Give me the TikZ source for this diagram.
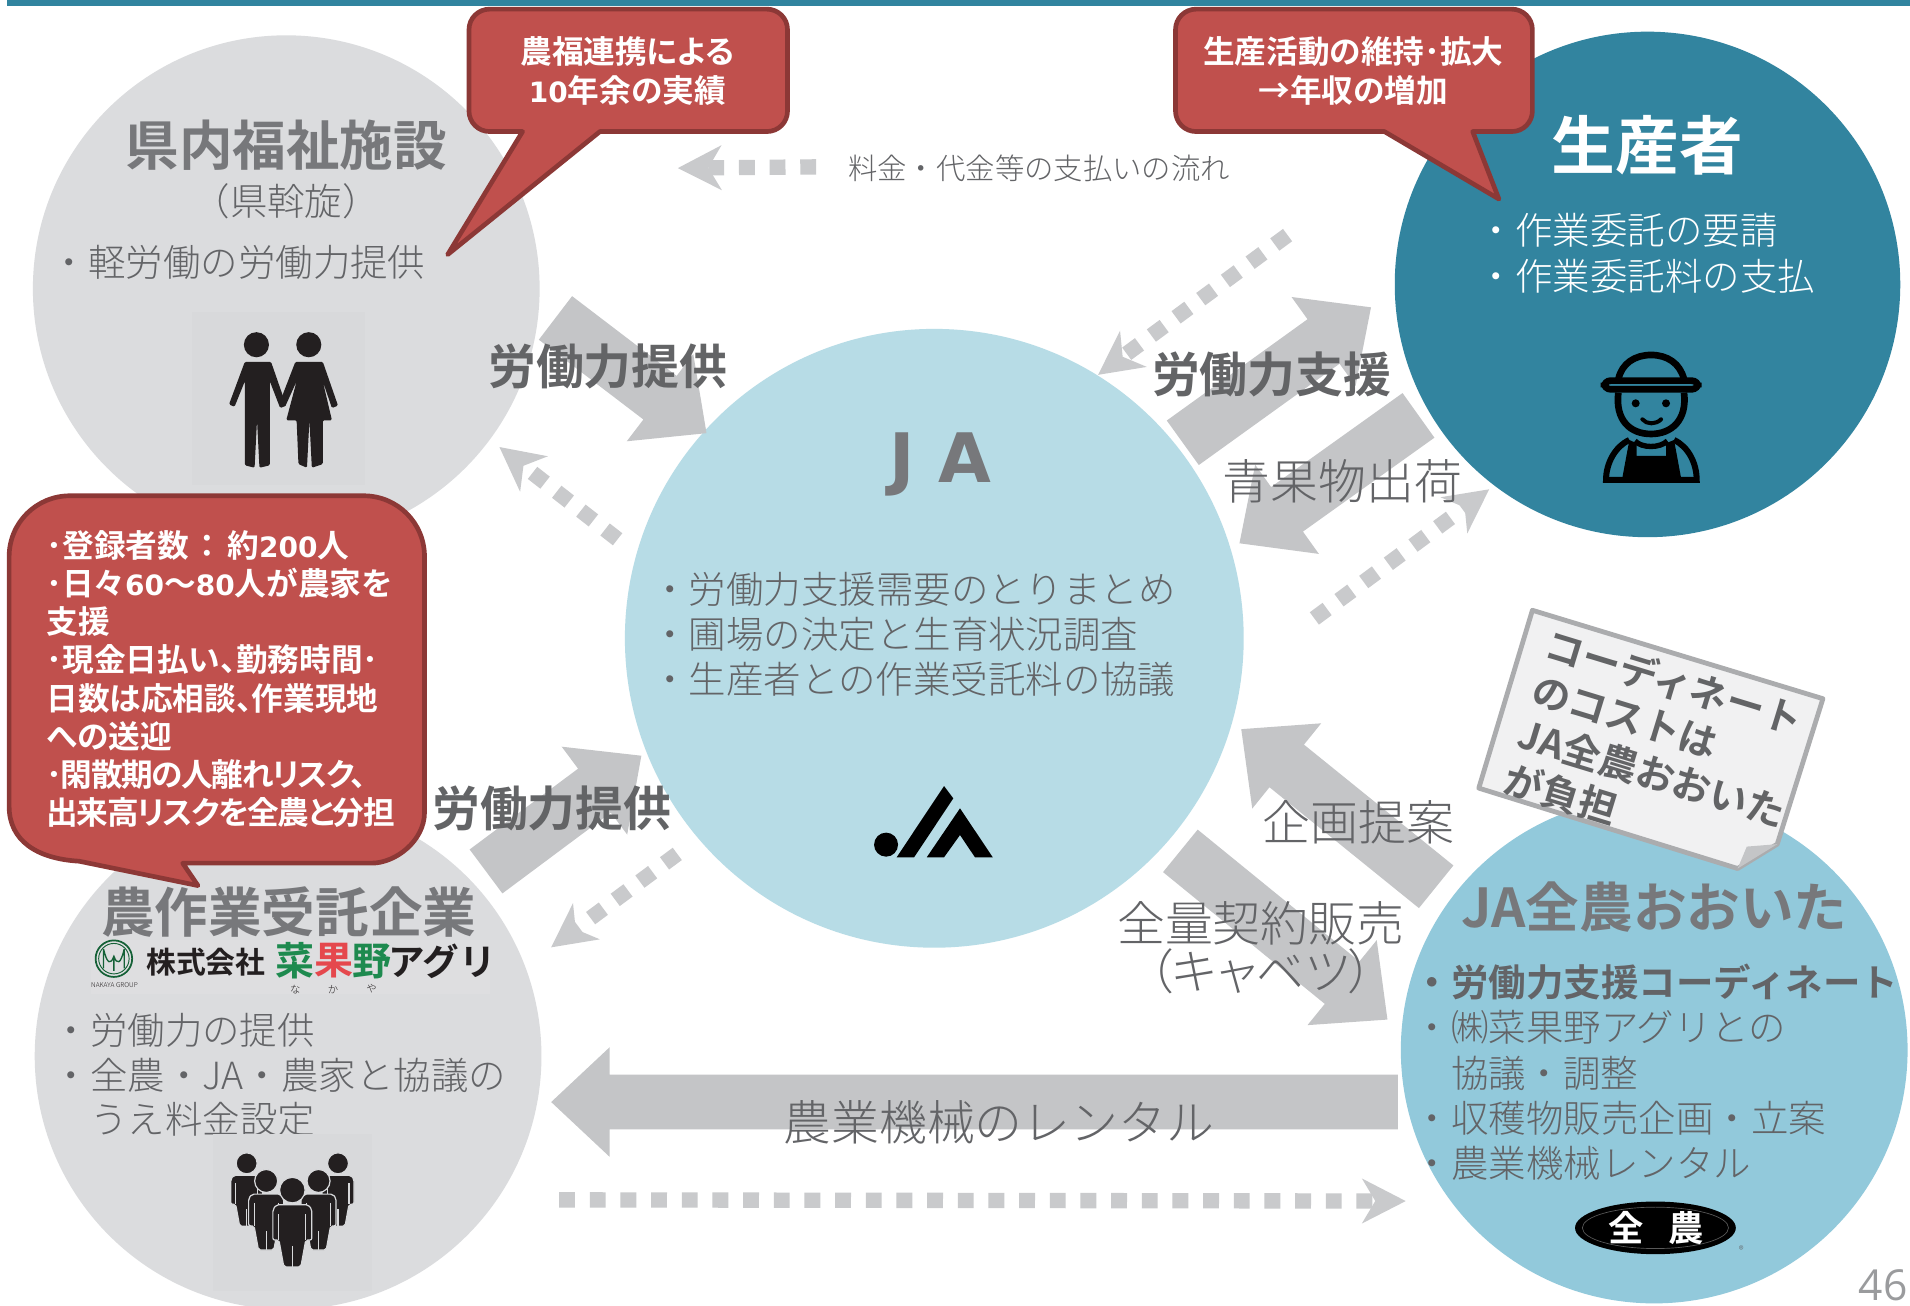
\documentclass[tikz,border=0pt]{standalone}
\usepackage{fontspec}
\usetikzlibrary{calc}
\setmainfont[BoldFont={Noto Sans CJK JP Bold}]{Noto Sans CJK JP Light}
\newfontfamily\jafont{DejaVu Sans}
\newfontfamily\numfont{Open Sans}
\newfontfamily\paltfont[RawFeature=+palt]{Noto Sans CJK JP Light}
\newfontfamily\callfont[BoldFont={Noto Sans CJK JP Bold},RawFeature=+palt]{Noto Sans CJK JP Bold}
\definecolor{topbar}{HTML}{31849F}
\definecolor{greyc}{HTML}{DBDCDE}
\definecolor{greyi}{HTML}{D8D9DB}
\definecolor{tealc}{HTML}{32849F}
\definecolor{bluec}{HTML}{B7DCE6}
\definecolor{zenc}{HTML}{92C9DB}
\definecolor{barc}{HTML}{C4C5C7}
\definecolor{dashc}{HTML}{C9CACC}
\definecolor{redf}{HTML}{C0504D}
\definecolor{redd}{HTML}{8C3836}
\definecolor{txt}{HTML}{636467}
\definecolor{txtb}{HTML}{77787B}
\definecolor{txtd}{HTML}{636466}
\definecolor{inkk}{HTML}{231F20}
\definecolor{notef}{HTML}{F1F1F2}
\definecolor{noted}{HTML}{ABACAE}
\definecolor{leaf}{HTML}{1E8A4F}
\definecolor{berry}{HTML}{E5484D}
\def\UU{0.91358pt}
\newcommand\fs[1]{\pgfmathsetmacro\fsz{#1*0.91358}\fontsize{\fsz pt}{\fsz pt}\selectfont}
\newcommand\latn[1]{{\jafont\fontsize{21pt}{21pt}\selectfont #1}}
\newcommand\tight[1]{{\addfontfeatures{LetterSpace=-4.5}#1}}
\tikzset{
  disc/.style={circle,inner sep=0pt,minimum size={#1*\UU},draw=none},
  bar/.style={fill=barc,draw=none},
  dashbar/.style={draw=dashc,line width=11.5pt,dash pattern=on 11.9pt off 11.1pt},
  dashhead/.style={fill=dashc,draw=none},
  callout/.style={fill=redf,draw=redd,line width=3.5pt,line join=round},
  calltext/.style={text=white,font=\callfont\fs{26}\bfseries,align=center,inner sep=0pt},
  big/.style={text=txtb,font=\fs{44}\bfseries,inner sep=0pt},
  bul/.style={text=txt,font=\fs{30.75},inner sep=0pt,anchor=west},
  wbul/.style={bul,text=white},
  lab/.style={text=txtd,font=\fs{39.3}\bfseries,inner sep=0pt},
  labr/.style={text=txt,font=\fs{39.3},inner sep=0pt,align=center}
}
\newcommand\blockarrow[2]{%
  \coordinate (hb) at ($(#2)!48*\UU!(#1)$);
  \fill[bar] ($(#1)!22.5*\UU!90:(#2)$) -- ($(hb)!22.5*\UU!90:(#2)$) -- ($(hb)!45*\UU!90:(#2)$) -- (#2)
    -- ($(hb)!45*\UU!-90:(#2)$) -- ($(hb)!22.5*\UU!-90:(#2)$) -- ($(#1)!22.5*\UU!-90:(#2)$) -- cycle;}
\newcommand\dasharrow[2]{%
  \coordinate (hb) at ($(#2)!36*\UU!(#1)$);
  \draw[dashbar] (#1) -- ($(#2)!24*\UU!(#1)$);
  \fill[dashhead] (#2) -- ($(hb)!18.5*\UU!90:(#2)$) -- ($(#2)!25*\UU!(#1)$) -- ($(hb)!18.5*\UU!-90:(#2)$) -- cycle;}
\newcommand\guy[4]{%
  \begin{scope}[shift={(#1,#2)},x=#3*\UU,y=-#3*\UU]
    \filldraw[fill=inkk,draw=#4,line width=0.9pt] (0,0) circle [radius=10.5];
    \filldraw[fill=inkk,draw=#4,line width=0.9pt,rounded corners=1.5pt]
      (-13,12) -- (13,12) -- (16,16) -- (16,41) -- (11,41) -- (7,63) -- (-7,63) -- (-11,41) -- (-16,41) -- (-16,16) -- cycle;
    \draw[#4,line width=0.8pt] (11,20) -- (11,41) (-11,20) -- (-11,41) (0,46) -- (0,63);
  \end{scope}}
\begin{document}
\begin{tikzpicture}[x=0.91358pt,y=-0.91358pt]
\useasboundingbox (0,0) rectangle (1568,1072);
\fill[white] (0,0) rectangle (1568,1072);
\fill[topbar] (5.5,0) rectangle (1568,4.7);

% circles
\node[disc=416,fill=greyc] (pref) at (235,237) {};
\node[disc=415,fill=tealc] (farm) at (1352.5,233.5) {};
\node[disc=508,fill=bluec] (ja) at (767,524) {};
\begin{scope}
\clip (0,0) rectangle (1568,1072);
\node[disc=416,fill=zenc] (zen) at (1358,862) {};
\node[disc=416,fill=greyc] (agri) at (236.5,867) {};
\end{scope}

% block arrows
\coordinate (a1) at (456,261);    \coordinate (a2) at (580,355.6);
\coordinate (b1) at (971,363.5);  \coordinate (b2) at (1125.5,252.3);
\coordinate (c1) at (1164.5,341); \coordinate (c2) at (1017.5,446);
\coordinate (d1) at (399,715.4);  \coordinate (d2) at (526.5,620.4);
\coordinate (e1) at (1179,728);   \coordinate (e2) at (1019,598.6);
\coordinate (f1) at (969,698.5);  \coordinate (f2) at (1139,837);
\coordinate (g1) at (1147.5,904.7); \coordinate (g2) at (452.5,904.7);
\blockarrow{a1}{a2}
\blockarrow{b1}{b2}
\blockarrow{c1}{c2}
\blockarrow{d1}{d2}
\blockarrow{e1}{e2}
\blockarrow{f1}{f2}
\blockarrow{g1}{g2}

% dashed arrows
\coordinate (p1) at (670,137);     \coordinate (p2) at (556.5,138);
\coordinate (q1) at (507,442.7);   \coordinate (q2) at (410,367);
\coordinate (r1) at (1057,193);    \coordinate (r2) at (901.5,307.7);
\coordinate (s1) at (1079,507.7);  \coordinate (s2) at (1222.5,401.7);
\coordinate (t1) at (556,701);     \coordinate (t2) at (452.5,777.7);
\coordinate (w1) at (459,985);     \coordinate (w2) at (1154,986);
\dasharrow{p1}{p2}
\dasharrow{q1}{q2}
\dasharrow{r1}{r2}
\dasharrow{s1}{s2}
\dasharrow{t1}{t2}
\dasharrow{w1}{w2}

% pref circle content
\node[big] (preft) at (235,119) {県内福祉施設};
\node[text=txt,font=\fs{30.75},inner sep=0pt] (prefs) at (235,165) {（県斡旋）};
\node[bul] (prefb) at (41.5,215) {・軽労働の労働力提供};
\fill[greyi] (157.5,256) rectangle (300,398);
\fill[inkk] (210.5,283) circle [radius=10.3] (253.5,283) circle [radius=10.3];
\fill[inkk,rounded corners=1pt] (201,297) -- (222.5,297) -- (235,333) -- (230,335) -- (221.5,313) -- (221.5,382) -- (213,384) -- (211,345) -- (209,384) -- (201,382) -- (201,313) -- (192.5,334) -- (188,332) -- cycle;
\fill[inkk,rounded corners=1pt] (242.5,297) -- (265,297) -- (277.5,333) -- (272.5,335) -- (265,313) -- (272.5,345) -- (265,345) -- (265,381) -- (256,384) -- (254,345) -- (252,384) -- (245,381) -- (243.5,345) -- (235,345) -- (243.5,313) -- (234,334) -- (229,332) -- cycle;

% farmer content
\node[font=\fs{52.3}\bfseries,text=white,inner sep=0pt] (farmt) at (1352.5,119) {生産者};
\node[wbul] (farmb1) at (1213,189) {・作業委託の要請};
\node[wbul] (farmb2) at (1213,227) {・作業委託料の支払};
\begin{scope}[shift={(1297.1,279.1)},x=0.25pt,y=-0.25pt]
  \draw[black,line width=5pt] (115,118) .. controls (125,70) and (165,45) .. (213,45) .. controls (262,45) and (300,70) .. (312,118);
  \draw[black,line width=5pt,line join=round] (115,158) .. controls (105,240) and (150,282) .. (213,282) .. controls (275,282) and (322,240) .. (312,158);
  \draw[black,line width=5pt,rounded corners=5pt] (72,122) rectangle (355,148);
  \fill[black] (167,190) circle [radius=12] (258,190) circle [radius=12];
  \draw[black,line width=3pt,line cap=round] (187,238) .. controls (200,254) and (228,254) .. (243,238);
  \fill[black] (148,300) -- (125,424) -- (305,424) -- (282,300) -- (258,310) -- (258,348) -- (170,348) -- (170,310) -- cycle;
  \draw[black,line width=4.5pt] (148,300) .. controls (105,320) and (78,370) .. (78,420) -- (350,420) .. controls (350,370) and (325,320) .. (282,300);
  \draw[black,line width=4pt] (165,303) .. controls (185,325) and (240,325) .. (262,303);
\end{scope}

% JA content
\node[font=\jafont\fs{56}\bfseries,text=txtb,inner sep=0pt] (jat) at (772,381) {J A};
\node[bul] (jab1) at (534.5,484) {・労働力支援需要のとりまとめ};
\node[bul] (jab2) at (534.5,521) {・圃場の決定と生育状況調査};
\node[bul] (jab3) at (534.5,558) {・生産者との作業受託料の協議};
\fill[black] (727.4,693.4) circle [radius=9.85];
\fill[black] (736.1,703.8) -- (750.4,703.8) -- (782.6,655.4) -- (775,645.3) -- cycle;
\fill[black] (760.8,703.8) -- (775,703.8) -- (788.1,685.5) -- (800.4,703.8) -- (815,703.8) -- (788.1,663.6) -- cycle;

% zen content
\node[big] (zent) at (1358,745) {JA全農おおいた};
\node[bul,font=\fs{30.75}\bfseries] (zenb1) at (1160.5,806) {・労働力支援コーディネート};
\node[bul] (zenb2) at (1160.5,843) {・㈱菜果野アグリとの};
\node[bul] (zenb3) at (1191,881) {協議・調整};
\node[bul] (zenb4) at (1160.5,918) {・収穫物販売企画・立案};
\node[bul] (zenb5) at (1160.5,955) {・農業機械レンタル};
\fill[black] (1359,1008) ellipse [x radius=66,y radius=21.6];
\draw[gray!70!black,line width=0.5pt] (1359,1008) ellipse [x radius=60,y radius=17];
\node[font=\fs{29}\bfseries,text=white,inner sep=0pt] (zlg1) at (1335,1008) {全};
\node[font=\fs{29}\bfseries,text=white,inner sep=0pt] (zlg2) at (1384,1008) {農};
\node[font=\fs{8},text=txtd,inner sep=0pt] (zlg3) at (1429.5,1025.5) {®};

% agri content
\node[big] (agrit) at (237,749) {農作業受託企業};
\fill[greyc!93!white] (75,772) rectangle (402.5,816);
\draw[leaf!70!black,line width=1.3pt] (93.5,787) circle [radius=15];
\draw[leaf!70!black,line width=0.7pt] (93.5,787) circle [radius=12.5];
\draw[leaf!70!black,line width=1pt] (85,779) -- (85,795) (102,779) -- (102,795) (85,779) .. controls (88,792) and (91,792) .. (93.5,785) .. controls (96,792) and (99,792) .. (102,779) (93.5,785) -- (93.5,797);
\node[font=\fs{5.4},text=inkk,inner sep=0pt] (agl0) at (94,808.5) {NAKAYA GROUP};
\node[font=\fs{24.5}\bfseries,text=inkk,inner sep=0pt] (agl1) at (169,790) {株式会社};
\node[font=\fs{32}\bfseries,text=leaf,inner sep=0pt] (agl2) at (242.5,789) {菜};
\node[font=\fs{32}\bfseries,text=berry,inner sep=0pt] (agl3) at (274,789) {果};
\node[font=\fs{32}\bfseries,text=leaf,inner sep=0pt] (agl4) at (305,789) {野};
\node[font=\fs{30}\bfseries,text=inkk,inner sep=0pt] (agl5) at (363,789) {アグリ};
\node[font=\fs{8.5},text=inkk,inner sep=0pt] (agl6) at (242.5,812) {な};
\node[font=\fs{8.5},text=inkk,inner sep=0pt] (agl7) at (273.5,812) {か};
\node[font=\fs{8.5},text=inkk,inner sep=0pt] (agl8) at (305,812) {や};
\node[bul] (agrb1) at (43,846) {・労働力の提供};
\node[bul] (agrb2) at (43,883) {・全農・JA・農家と協議の};
\node[bul] (agrb3) at (74,919) {うえ料金設定};
\fill[greyi] (175,931) rectangle (305,1060);
\guy{202.5}{955}{0.82}{greyi}
\guy{277.5}{955}{0.82}{greyi}
\guy{218.5}{969.5}{0.9}{greyi}
\guy{261.5}{969.5}{0.9}{greyi}
\guy{240}{977}{1}{greyi}

% callouts
\draw[callout] (402,7.5) -- (629.5,7.5) .. controls (639,7.5) and (646.5,15) .. (646.5,24.5) -- (646.5,91) .. controls (646.5,100.5) and (639,108) .. (629.5,108) -- (492.5,108) -- (367.5,209) -- (429,108) -- (402,108) .. controls (392.5,108) and (385,100.5) .. (385,91) -- (385,24.5) .. controls (385,15) and (392.5,7.5) .. (402,7.5) -- cycle;
\node[calltext] (ct1) at (515,58) {農福連携による\\[5.5pt]\latn{10}年余の実績};
\draw[callout] (982,7.5) -- (1241,7.5) .. controls (1250.5,7.5) and (1258,15) .. (1258,24.5) -- (1258,91) .. controls (1258,100.5) and (1250.5,108) .. (1241,108) -- (1209,108) -- (1230.5,163.4) -- (1136.5,108) -- (982,108) .. controls (972.5,108) and (965,100.5) .. (965,91) -- (965,24.5) .. controls (965,15) and (972.5,7.5) .. (982,7.5) -- cycle;
\node[calltext] (ct2) at (1111,58) {生産活動の維持･拡大\\[5.5pt]→年収の増加};
\draw[callout] (57.5,407) -- (298.5,407) .. controls (326,407) and (348.5,429) .. (348.5,457) -- (348.5,667) .. controls (348.5,690) and (325,708.6) .. (305,708.6) -- (150,708.6) -- (162.5,727) -- (65,707) .. controls (30,705) and (7.5,690) .. (7.5,662) -- (7.5,457) .. controls (7.5,429) and (30,407) .. (57.5,407) -- cycle;
\node[calltext,align=left,anchor=north west] (ct3) at (38,435)
  {･登録者数\kern8pt：\kern9pt 約\latn{200}人\\[4.95pt]･日々\latn{60}～\latn{80}人が農家を\\[4.95pt]支援\\[4.95pt]･現金日払い、勤務時間･\\[4.95pt]日数は応相談、作業現地\\[4.95pt]への送迎\\[4.95pt]\tight{･閑散期の人離れリスク、}\\[4.95pt]\tight{出来高リスクを全農と分担}};

% note
\filldraw[fill=notef,draw=noted,line width=3.6pt,line join=round] (1258,501) -- (1496.5,573.6) -- (1459,693) -- (1426.5,713) -- (1214,647) -- cycle;
\filldraw[fill=barc,draw=none] (1434,695) -- (1459,693) -- (1426.5,713) -- cycle;
\node[text=txtd,font=\fs{31.5}\bfseries,align=left,rotate=-17,anchor=west,inner sep=0pt] (note) at (1253,583)
  {コーディネート\\[6.2pt]のコストは\\[6.2pt]JA全農おおいた\\[6.2pt]が負担};

% labels
\node[lab] (l1) at (499,301) {労働力提供};
\node[lab] (l2) at (1044,307) {労働力支援};
\node[labr] (l3) at (1102,395) {青果物出荷};
\node[lab] (l4) at (453,664) {労働力提供};
\node[labr] (l5) at (1115,675) {企画提案};
\node[labr] (l6) at (1035,778) {全量契約販売\\{\paltfont （キャベツ）}};
\node[labr] (l7) at (820,921) {農業機械のレンタル};
\node[text=txt,font=\fs{24.1},inner sep=0pt] (l8) at (853,138) {料金・代金等の支払いの流れ};
\node[font=\numfont\fs{35},text=noted!90!black,inner sep=0pt,anchor=base] (pg) at (1546,1068) {46};
\end{tikzpicture}
\end{document}
